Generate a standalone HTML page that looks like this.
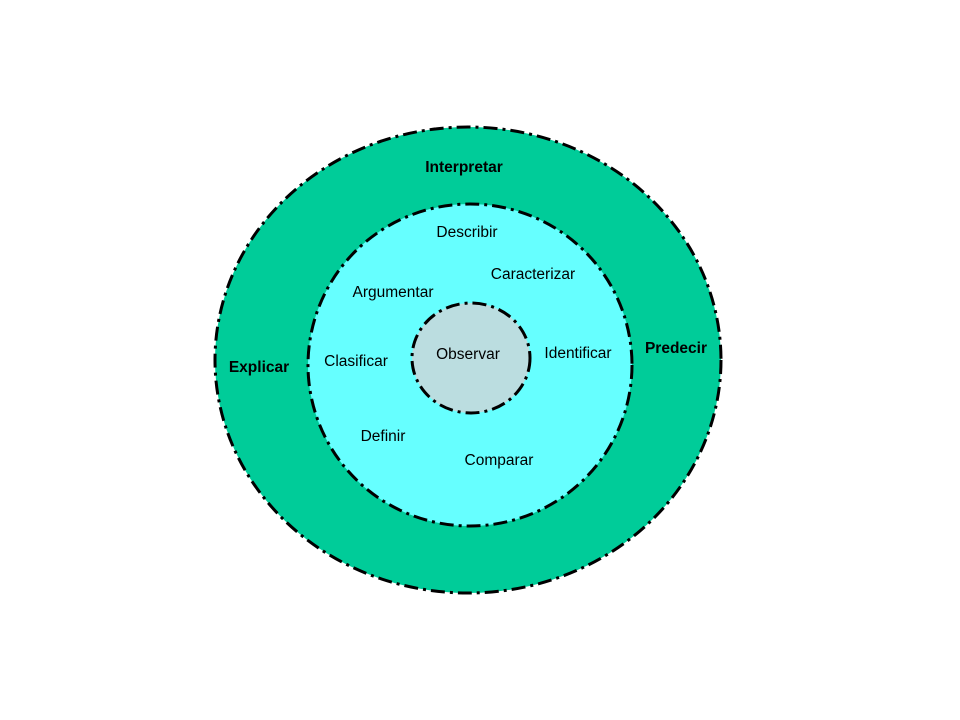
<!DOCTYPE html>
<html><head><meta charset="utf-8"><style>
html,body{margin:0;padding:0;background:#fff;width:960px;height:720px;overflow:hidden}
text{font-family:"Liberation Sans",sans-serif;font-size:15.5px;fill:#000}
.b{font-weight:bold}
</style></head><body>
<svg width="960" height="720" viewBox="0 0 960 720">
<ellipse cx="468" cy="360" rx="253" ry="233" fill="#00CC99" stroke="#000" stroke-width="3" stroke-dasharray="14,5,3,5"/>
<ellipse cx="470" cy="365" rx="162" ry="161" fill="#66FFFF" stroke="#000" stroke-width="3" stroke-dasharray="14,5,3,5"/>
<ellipse cx="471" cy="358" rx="59" ry="55" fill="#BBDDE0" stroke="#000" stroke-width="3" stroke-dasharray="14,5,3,5"/>
<text class="b" x="464" y="172" text-anchor="middle">Interpretar</text>
<text class="b" x="676" y="353" text-anchor="middle">Predecir</text>
<text class="b" x="259" y="372" text-anchor="middle">Explicar</text>
<text x="467" y="237" text-anchor="middle">Describir</text>
<text x="533" y="279" text-anchor="middle">Caracterizar</text>
<text x="393" y="297" text-anchor="middle">Argumentar</text>
<text x="356" y="366" text-anchor="middle">Clasificar</text>
<text x="468" y="359" text-anchor="middle">Observar</text>
<text x="578" y="358" text-anchor="middle">Identificar</text>
<text x="383" y="441" text-anchor="middle">Definir</text>
<text x="499" y="465" text-anchor="middle">Comparar</text>
</svg>
</body></html>
